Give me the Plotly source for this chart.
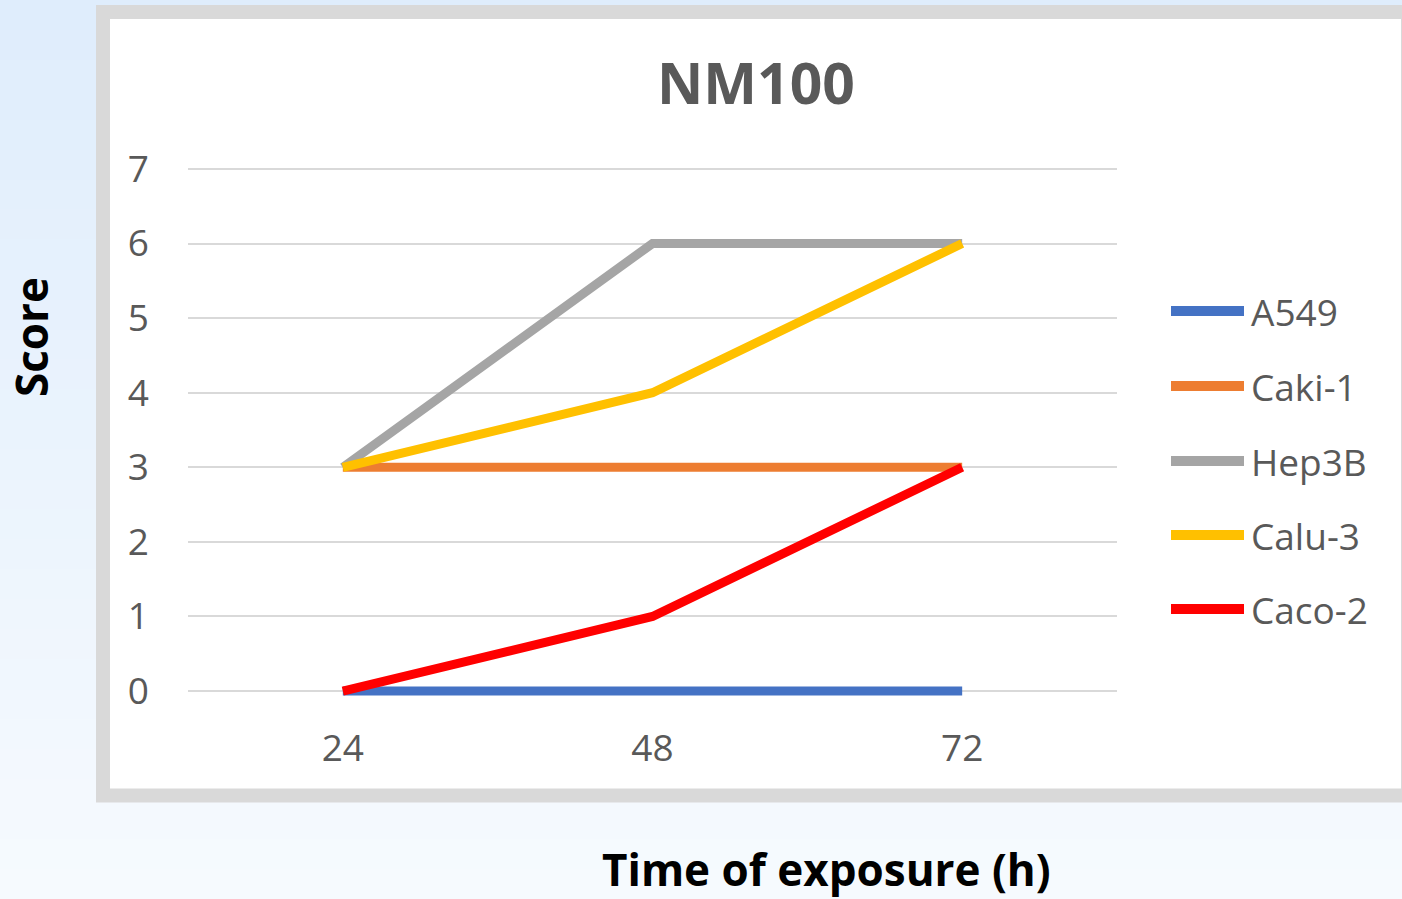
import plotly.graph_objects as go

# ---- data ----
times = ["24", "48", "72"]
series_names = ["A549", "Caki-1", "Hep3B", "Calu-3", "Caco-2"]
a549 = [0, 0, 0]
caki1 = [3, 3, 3]
hep3b = [3, 6, 6]
calu3 = [3, 4, 6]
caco2 = [0, 1, 3]
series_values = [a549, caki1, hep3b, calu3, caco2]
colors = ["#4472C4", "#ED7D31", "#A5A5A5", "#FFC000", "#FF0000"]
y_ticks = [0, 1, 2, 3, 4, 5, 6, 7]

W, H = 1402, 899
L, R, T, B = 188, 285, 154, 193
PW, PH = W - L - R, H - T - B


def px(x):
    return (x - L) / PW


def py(y):
    return (H - B - y) / PH


fig = go.Figure()
for name, vals, col in zip(series_names, series_values, colors):
    fig.add_trace(go.Scatter(x=times, y=vals, name=name, mode="lines",
                             line=dict(color=col, width=9), showlegend=False))

shapes = []
# background gradient (vertical bands)
top_c = (0xDF, 0xED, 0xFC)
bot_c = (0xF6, 0xFA, 0xFE)
n = 30
for i in range(n):
    t = i / (n - 1)
    c = tuple(round(top_c[k] + (bot_c[k] - top_c[k]) * t) for k in range(3))
    y0 = H * i / n
    y1 = H * (i + 1) / n + 1
    shapes.append(dict(type="rect", xref="paper", yref="paper", layer="below",
                       x0=px(-5), x1=px(W + 5), y0=py(y1), y1=py(y0),
                       fillcolor="rgb(%d,%d,%d)" % c, line=dict(width=0)))
# white chart box with gray border
shapes.append(dict(type="rect", xref="paper", yref="paper", layer="below",
                   x0=px(103), x1=px(1408), y0=py(795.5), y1=py(12),
                   fillcolor="white", line=dict(color="#D9D9D9", width=14)))

# custom legend
annotations = []
leg_y = [311, 386, 461, 535, 609]
for name, col, ly in zip(series_names, colors, leg_y):
    shapes.append(dict(type="line", xref="paper", yref="paper",
                       x0=px(1171), x1=px(1244), y0=py(ly), y1=py(ly),
                       line=dict(color=col, width=10)))
    annotations.append(dict(xref="paper", yref="paper", x=px(1249), y=py(ly),
                            text=name, showarrow=False, xanchor="left", yanchor="middle",
                            font=dict(family="Open Sans", size=37, color="#595959")))

annotations.append(dict(xref="paper", yref="paper", x=px(756), y=py(82),
                        text="<b>NM100</b>", showarrow=False, xanchor="center", yanchor="middle",
                        font=dict(family="Open Sans", size=57, color="#595959")))
annotations.append(dict(xref="paper", yref="paper", x=px(31), y=py(337),
                        text="<b>Score</b>", showarrow=False, textangle=-90,
                        xanchor="center", yanchor="middle",
                        font=dict(family="Open Sans", size=44, color="black")))
annotations.append(dict(xref="paper", yref="paper", x=px(826), y=py(869),
                        text="<b>Time of exposure (h)</b>", showarrow=False,
                        xanchor="center", yanchor="middle",
                        font=dict(family="Open Sans", size=44, color="black")))

fig.update_layout(
    width=W, height=H,
    margin=dict(l=L, r=R, t=T, b=B, pad=0),
    paper_bgcolor="#E6F0FC", plot_bgcolor="rgba(0,0,0,0)",
    shapes=shapes, annotations=annotations, showlegend=False,
    xaxis=dict(type="category", range=[-0.5, 2.5], showgrid=False, zeroline=False,
               showline=False, ticks="", ticklabelstandoff=17,
               tickfont=dict(family="Open Sans", size=37, color="#595959")),
    yaxis=dict(range=[-0.2, 7.2], tickvals=y_ticks, showgrid=True, gridcolor="#D9D9D9",
               gridwidth=2, zeroline=False, showline=False, ticks="",
               ticklabelstandoff=38,
               tickfont=dict(family="Open Sans", size=37, color="#595959")),
)

fig.write_html("out.html", config={"displayModeBar": False},
               post_script="document.body.style.margin='0';document.body.style.overflow='hidden';")
